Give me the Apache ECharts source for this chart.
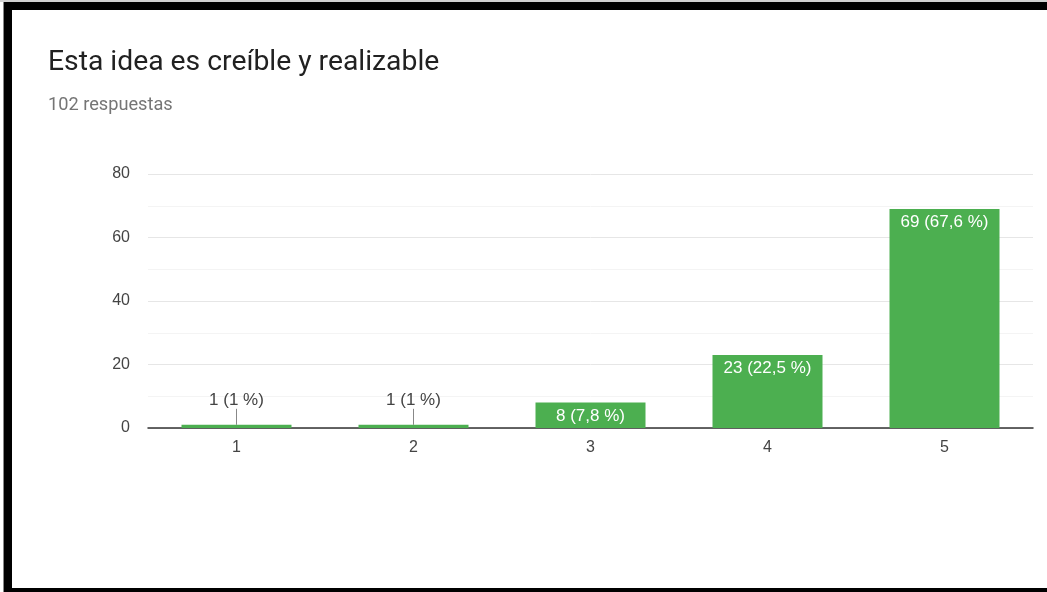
<!DOCTYPE html>
<html>
<head>
<meta charset="utf-8">
<script src="https://cdn.jsdelivr.net/npm/echarts@6/dist/echarts.min.js"></script>
<style>
html,body{margin:0;padding:0;background:#fff;}
#c{width:1047px;height:592px;}
</style>
</head>
<body>
<div id="c"></div>
<script>
const titleText = 'Esta idea es creíble y realizable';
const subtitleText = '102 respuestas';
const categories = ['1', '2', '3', '4', '5'];
const counts = [1, 1, 8, 23, 69];
const percents = ['1', '1', '7,8', '22,5', '67,6'];
const yTicks = [0, 20, 40, 60, 80];

const chart = echarts.init(document.getElementById('c'), null, {renderer: 'canvas'});
const GREEN = '#4caf50';
const outsideThreshold = 5;

const barData = counts.map((v, i) => {
  const outside = v < outsideThreshold;
  return {
    value: v,
    label: outside ? {
      show: true, position: 'top', distance: 16, color: '#444'
    } : {
      show: true, position: 'insideTop', distance: 5, color: '#fff'
    }
  };
});

const leaderData = counts.map((v, i) => [i, v, v < outsideThreshold ? 1 : 0]);

chart.setOption({
  animation: false,
  textStyle: {fontFamily: 'Liberation Sans, Arial, sans-serif'},
  title: [{
    text: titleText, left: 48, top: 49, padding: 0,
    textStyle: {fontFamily: 'Roboto', fontSize: 28.3, fontWeight: 'normal', color: '#212121'}
  }, {
    text: subtitleText, left: 48, top: 96, padding: 0,
    textStyle: {fontFamily: 'Roboto', fontSize: 18.2, fontWeight: 'normal', color: '#757575'}
  }],
  grid: {left: 148, right: 14, top: 174, bottom: 164, containLabel: false},
  xAxis: {
    type: 'category', data: categories,
    axisLine: {show: true, lineStyle: {color: '#333', width: 1.5}},
    axisTick: {show: false},
    axisLabel: {color: '#444', fontSize: 16, margin: 12}
  },
  yAxis: {
    type: 'value', min: yTicks[0], max: yTicks[yTicks.length - 1], interval: 20,
    axisLine: {show: false}, axisTick: {show: false},
    axisLabel: {color: '#444', fontSize: 16, margin: 18},
    splitLine: {show: true, lineStyle: {color: '#e6e6e6', width: 1}},
    minorTick: {show: false, splitNumber: 2},
    minorSplitLine: {show: true, lineStyle: {color: '#f4f4f4', width: 1}}
  },
  series: [{
    type: 'bar', data: barData, barWidth: 110,
    itemStyle: {color: GREEN},
    label: {
      fontSize: 17,
      formatter: p => counts[p.dataIndex] + ' (' + percents[p.dataIndex] + ' %)'
    },
    z: 2
  }, {
    type: 'custom', data: leaderData, z: 3,
    renderItem: (params, api) => {
      if (!api.value(2)) return null;
      const p = api.coord([api.value(0), api.value(1)]);
      return {
        type: 'line',
        shape: {x1: p[0], y1: p[1], x2: p[0], y2: p[1] - 16},
        style: {stroke: '#888', lineWidth: 1}
      };
    }
  }],
  graphic: [
    {type: 'rect', shape: {x: 0, y: 0, width: 1047, height: 2}, style: {fill: '#d0d0d0'}},
    {type: 'rect', shape: {x: 3, y: 2, width: 1, height: 590}, style: {fill: '#888'}},
    {type: 'rect', shape: {x: 4, y: 2, width: 1043, height: 8}, style: {fill: '#000'}},
    {type: 'rect', shape: {x: 4, y: 2, width: 8, height: 590}, style: {fill: '#000'}},
    {type: 'rect', shape: {x: 4, y: 588, width: 1043, height: 4}, style: {fill: '#000'}}
  ]
});
</script>
</body>
</html>
